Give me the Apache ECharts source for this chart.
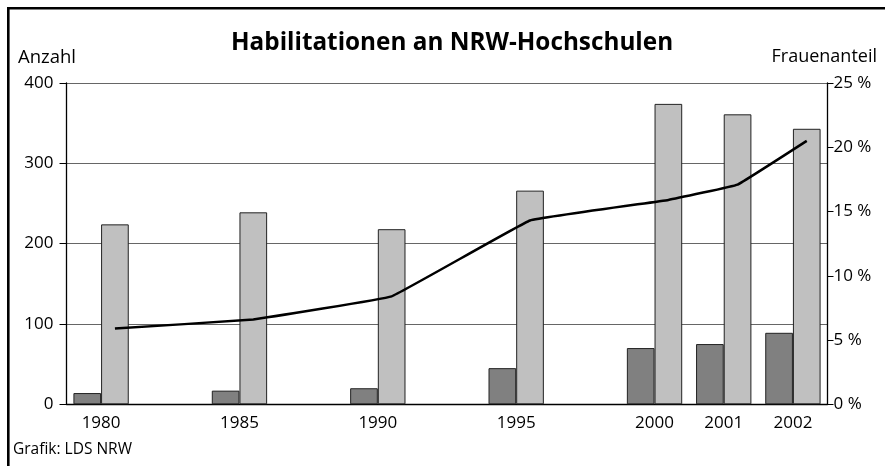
<!DOCTYPE html>
<html>
<head>
<meta charset="utf-8">
<script src="https://cdn.jsdelivr.net/npm/echarts@6/dist/echarts.min.js"></script>
<style>
html,body{margin:0;padding:0;background:#fff;}
#chart{width:885px;height:466px;}
</style>
</head>
<body>
<div id="chart"></div>
<script>
// Categories (empty slots keep the time spacing of the original)
const categories = ['1980', '', '1985', '', '1990', '', '1995', '', '2000', '2001', '2002'];
// Habilitationen von Frauen (dark bars)
const frauen = [14, null, 17, null, 20, null, 45, null, 70, 75, 89];
// Habilitationen insgesamt (light bars)
const insgesamt = [224, null, 239, null, 218, null, 266, null, 374, 361, 343];
// Frauenanteil in % (line)
const anteil = [5.9, null, 6.6, null, 8.4, null, 14.3, null, 15.9, 17.1, 20.5];
const leftTicks = [0, 100, 200, 300, 400];
const rightTicks = [0, 5, 10, 15, 20, 25];

const FONT = 'Open Sans';
const G = { left: 66.5, right: 57.5, top: 83, bottom: 61.7 };
// the line is drawn at the centre of the light bars: half a bar width to the right
const slot = (885 - G.left - G.right) / categories.length;
const shift = slot * 0.8 / 4;

const chart = echarts.init(document.getElementById('chart'));
chart.setOption({
  animation: false,
  backgroundColor: '#fff',
  textStyle: { fontFamily: FONT, color: '#000' },
  title: {
    text: 'Habilitationen an NRW-Hochschulen',
    left: 226,
    top: 26,
    textStyle: { fontFamily: FONT, fontWeight: 'bold', fontSize: 24.3, color: '#000' }
  },
  graphic: [
    { type: 'rect', shape: { x: 8.3, y: 8.3, width: 900, height: 500 },
      style: { fill: 'none', stroke: '#000', lineWidth: 2.6 } },
    { type: 'text', left: 18, top: 48,
      style: { text: 'Anzahl', font: '18.5px "Open Sans"', fill: '#000' } },
    { type: 'text', right: 8, top: 48,
      style: { text: 'Frauenanteil', font: '18px "Open Sans"', fill: '#000' } },
    { type: 'text', left: 13, top: 442,
      style: { text: 'Grafik: LDS NRW', font: '15.5px "Open Sans"', fill: '#000' } }
  ],
  grid: [
    { left: G.left, right: G.right, top: G.top, bottom: G.bottom, containLabel: false },
    { left: G.left + shift, right: G.right - shift, top: G.top, bottom: G.bottom, containLabel: false }
  ],
  xAxis: [
    {
      type: 'category', gridIndex: 0,
      data: categories,
      axisLine: { show: true, lineStyle: { color: '#000', width: 1.3 } },
      axisTick: { show: false },
      axisLabel: { interval: 0, fontSize: 17, color: '#000', margin: 10, fontFamily: FONT },
      splitLine: { show: false }
    },
    {
      type: 'category', gridIndex: 1, data: categories, show: false
    }
  ],
  yAxis: [
    {
      type: 'value', gridIndex: 0, min: leftTicks[0], max: leftTicks[leftTicks.length - 1], interval: 100,
      position: 'left',
      axisLine: { show: true, lineStyle: { color: '#000', width: 1.3 } },
      axisTick: { show: true, length: 7, lineStyle: { color: '#000', width: 1 } },
      axisLabel: { fontSize: 17, color: '#000', margin: 13, padding: [0, 0, 8, 0], fontFamily: FONT },
      splitLine: { show: true, lineStyle: { color: '#666', width: 1.2 } }
    },
    {
      type: 'value', gridIndex: 0, min: rightTicks[0], max: rightTicks[rightTicks.length - 1], interval: 5,
      position: 'right',
      axisLine: { show: true, lineStyle: { color: '#000', width: 1.3 } },
      axisTick: { show: true, length: 6, lineStyle: { color: '#000', width: 1 } },
      axisLabel: { fontSize: 17, color: '#000', margin: 6, padding: [0, 0, 8, 0], fontFamily: FONT,
        formatter: '{value} %' },
      splitLine: { show: false }
    },
    {
      type: 'value', gridIndex: 1, min: rightTicks[0], max: rightTicks[rightTicks.length - 1], interval: 5,
      show: false, splitLine: { show: false }
    }
  ],
  series: [
    {
      name: 'Frauen', type: 'bar', data: frauen, xAxisIndex: 0, yAxisIndex: 0,
      barGap: '0%', barCategoryGap: '20%',
      itemStyle: { color: '#808080', borderColor: '#222', borderWidth: 1 }
    },
    {
      name: 'Insgesamt', type: 'bar', data: insgesamt, xAxisIndex: 0, yAxisIndex: 0,
      barGap: '0%', barCategoryGap: '20%',
      itemStyle: { color: '#c0c0c0', borderColor: '#222', borderWidth: 1 }
    },
    {
      name: 'Frauenanteil', type: 'line', data: anteil, xAxisIndex: 1, yAxisIndex: 2,
      connectNulls: true, smooth: 0.06, symbol: 'none',
      lineStyle: { color: '#000', width: 2.5 },
      z: 5
    }
  ]
});
</script>
</body>
</html>
